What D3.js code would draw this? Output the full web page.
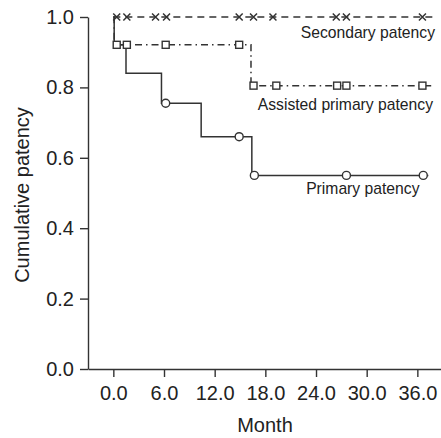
<!DOCTYPE html>
<html><head><meta charset="utf-8">
<script src="https://cdn.jsdelivr.net/npm/d3@7/dist/d3.min.js"></script>
<style>
html,body{margin:0;padding:0;background:#fff;}
svg{display:block;font-family:"Liberation Sans",Arial,Helvetica,sans-serif;}
</style></head>
<body><svg id="c" width="441" height="438"></svg>
<script>
// ---- data ----
const xTicks = [0, 6, 12, 18, 24, 30, 36];
const yTicks = [0, 0.2, 0.4, 0.6, 0.8, 1.0];

const primaryStepT = [0, 0.1, 1.5, 5.7, 10.4, 16.4, 37.3];
const primaryStepV = [1.0, 0.921, 0.84, 0.755, 0.66, 0.55, 0.55];
const primaryCensT = [6.2, 14.9, 16.7, 27.6, 36.7];
const primaryCensV = [0.755, 0.66, 0.55, 0.55, 0.55];

const assistedStepT = [0, 0.1, 16.3, 37.8];
const assistedStepV = [1.0, 0.921, 0.805, 0.805];
const assistedCensT = [0.4, 1.6, 6.2, 14.9, 16.6, 19.3, 26.5, 27.6, 36.6];
const assistedCensV = [0.921, 0.921, 0.921, 0.921, 0.805, 0.805, 0.805, 0.805, 0.805];

const secondaryStepT = [0, 37.9];
const secondaryStepV = [1.0, 1.0];
const secondaryCensT = [0.4, 1.6, 5.0, 6.3, 14.9, 16.6, 18.9, 26.4, 27.6, 36.6];
const secondaryCensV = [1, 1, 1, 1, 1, 1, 1, 1, 1, 1];

const labels = ["Secondary patency", "Assisted primary patency", "Primary patency"];

// ---- layout ----
const svg = d3.select("#c");
const ink = "#333";
const x = d3.scaleLinear().domain([-3, 38.8]).range([88, 441]);
const y = d3.scaleLinear().domain([0, 1]).range([369, 17]);

const xAxis = svg.append("g").attr("transform", "translate(0,369)")
  .call(d3.axisBottom(x).tickValues(xTicks).tickSize(8).tickSizeOuter(0).tickPadding(9).tickFormat(d3.format(".1f")));
const yAxis = svg.append("g").attr("transform", "translate(88,0)")
  .call(d3.axisLeft(y).tickValues(yTicks).tickSize(8).tickSizeOuter(0).tickPadding(6).tickFormat(d3.format(".1f")));
[xAxis, yAxis].forEach(g => {
  g.selectAll("path,line").attr("stroke", ink).attr("stroke-width", 1.4);
  g.selectAll("text").attr("fill", "#222").style("font-size", "20px").style("font-family", "'Liberation Sans',Arial,sans-serif");
});

svg.append("text").attr("x", 265).attr("y", 432).attr("text-anchor", "middle")
  .attr("fill", "#222").style("font-size", "20px").text("Month");
svg.append("text").attr("transform", "translate(28.5,195) rotate(-90)").attr("text-anchor", "middle")
  .attr("fill", "#222").style("font-size", "20px").text("Cumulative patency");

const line = d3.line().curve(d3.curveStepAfter).x(d => x(d[0])).y(d => y(d[1]));
function curve(T, V, dash) {
  svg.append("path").datum(T.map((t, i) => [t, V[i]])).attr("d", line)
    .attr("fill", "none").attr("stroke", ink).attr("stroke-width", 1.5)
    .attr("stroke-dasharray", dash);
}
curve(secondaryStepT, secondaryStepV, "7,5");
curve(assistedStepT, assistedStepV, "7,4,1.5,4");
curve(primaryStepT, primaryStepV, null);

// markers
svg.append("g").selectAll("circle").data(primaryCensT.map((t, i) => [t, primaryCensV[i]])).join("circle")
  .attr("cx", d => x(d[0])).attr("cy", d => y(d[1])).attr("r", 4)
  .attr("fill", "#fff").attr("stroke", ink).attr("stroke-width", 1.4);
svg.append("g").selectAll("rect").data(assistedCensT.map((t, i) => [t, assistedCensV[i]])).join("rect")
  .attr("x", d => x(d[0]) - 3.5).attr("y", d => y(d[1]) - 3.5).attr("width", 7).attr("height", 7)
  .attr("fill", "#fff").attr("stroke", ink).attr("stroke-width", 1.4);
svg.append("g").selectAll("path").data(secondaryCensT.map((t, i) => [t, secondaryCensV[i]])).join("path")
  .attr("d", d => { const cx = x(d[0]), cy = y(d[1]), s = 3.5;
    return `M${cx - s},${cy - s}L${cx + s},${cy + s}M${cx - s},${cy + s}L${cx + s},${cy - s}`; })
  .attr("stroke", ink).attr("stroke-width", 1.5).attr("fill", "none");

// curve labels
const labelY = [37.5, 109.5, 194];
const labelX = [435, 433, 419.5];
labels.forEach((t, i) => {
  svg.append("text").attr("x", labelX[i]).attr("y", labelY[i]).attr("text-anchor", "end")
    .attr("fill", "#222").style("font-size", "15.7px").text(t);
});
</script></body></html>
